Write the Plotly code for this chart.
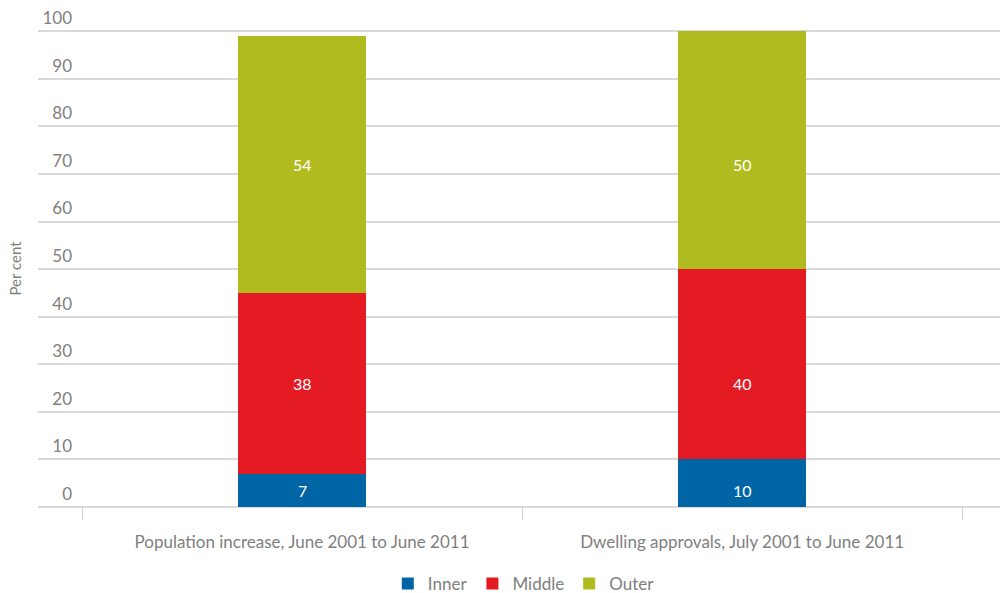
import plotly.graph_objects as go

categories = ["Population increase, June 2001 to June 2011",
              "Dwelling approvals, July 2001 to June 2011"]
inner = [7, 10]
middle = [38, 40]
outer = [54, 50]
y_ticks = [0, 10, 20, 30, 40, 50, 60, 70, 80, 90, 100]

GREY = "#808080"
FONT = "Lato"

series = [("Inner", inner, "#0065a4"),
          ("Middle", middle, "#e41b23"),
          ("Outer", outer, "#b0bb1f")]

fig = go.Figure()
for name, vals, color in series:
    fig.add_trace(go.Bar(
        name=name, x=categories, y=vals,
        marker=dict(color=color, line=dict(width=0)),
        width=0.29,
        hoverinfo="skip",
    ))

# value labels: each series' labels share one row, set at the
# segment midpoints of the first column
base = 0
for name, vals, color in series:
    row_y = base + vals[0] / 2
    for cat, v in zip(categories, vals):
        fig.add_annotation(x=cat, y=row_y, text=str(v), showarrow=False,
                           font=dict(color="white", size=16, family=FONT))
    base += vals[0]

fig.add_annotation(text="Per cent", xref="paper", yref="paper",
                   x=-24 / 962, y=0.5, textangle=-90,
                   showarrow=False, xanchor="center", yanchor="middle",
                   font=dict(size=15, color=GREY, family=FONT))

fig.update_layout(
    barmode="stack",
    width=1000, height=593,
    margin=dict(l=38, r=0, t=30, b=86, autoexpand=False),
    paper_bgcolor="white", plot_bgcolor="white",
    font=dict(family=FONT, color=GREY, size=17),
    showlegend=True,
    legend=dict(orientation="h", x=0.505, xanchor="center",
                y=-0.1614, yanchor="middle",
                font=dict(size=17, color=GREY, family=FONT),
                itemwidth=30, traceorder="normal"),
    xaxis=dict(
        range=[-0.6, 1.586],
        automargin=False,
        tickson="boundaries",
        ticks="outside", ticklen=12, tickcolor="#d0d0d0", tickwidth=1,
        ticklabelstandoff=23,
        showline=False, showgrid=False, zeroline=False,
        tickfont=dict(size=17, color=GREY, family=FONT),
    ),
    yaxis=dict(
        range=[0, 100.25],
        tickvals=y_ticks,
        automargin=False,
        anchor="free", position=0.0375,
        showgrid=True, gridcolor="#d9d9d9", gridwidth=1.5,
        zeroline=True, zerolinecolor="#d9d9d9", zerolinewidth=1.5,
        showline=False, ticks="",
        ticklabelshift=-13, ticklabelstandoff=2,
        tickfont=dict(size=17, color=GREY, family=FONT),
    ),
)

fig.write_html("out.html")
